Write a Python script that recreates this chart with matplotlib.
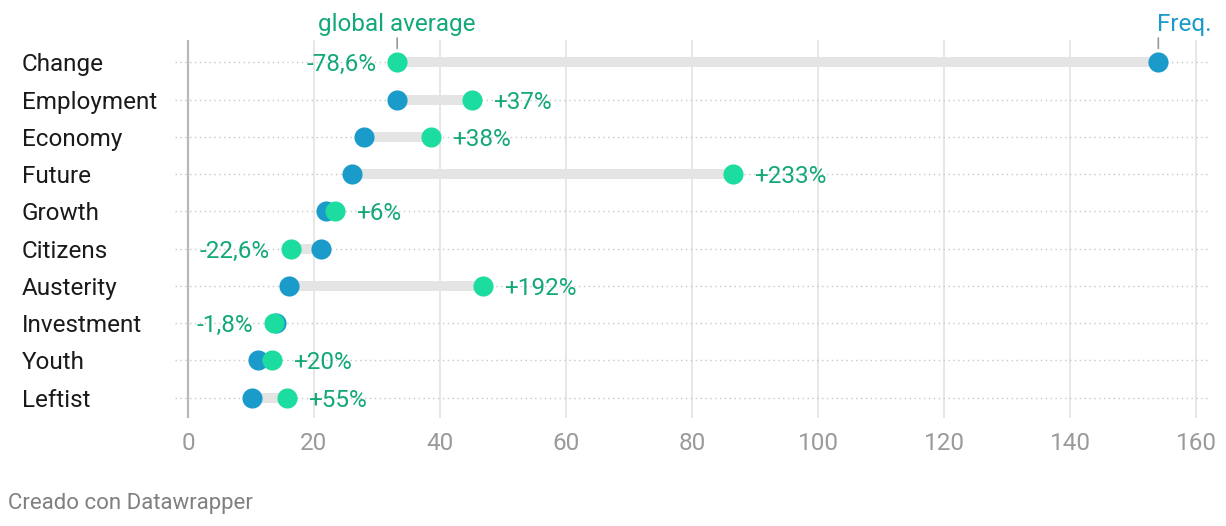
import matplotlib
matplotlib.use("Agg")
import matplotlib.pyplot as plt
from matplotlib.transforms import blended_transform_factory

plt.rcParams["font.family"] = ["Roboto", "DejaVu Sans"]

categories = ["Change", "Employment", "Economy", "Future", "Growth",
              "Citizens", "Austerity", "Investment", "Youth", "Leftist"]
freq = [154.0, 33.2, 27.9, 26.0, 21.9, 21.1, 16.0, 14.0, 11.1, 10.2]
global_avg = [33.2, 45.1, 38.6, 86.5, 23.4, 16.3, 46.8, 13.7, 13.3, 15.7]
pct_labels = ["-78,6%", "+37%", "+38%", "+233%", "+6%",
              "-22,6%", "+192%", "-1,8%", "+20%", "+55%"]
xticks = [0, 20, 40, 60, 80, 100, 120, 140, 160]

BLUE = "#1a9bca"
GREEN = "#1ddc9f"
GREEN_TXT = "#12a87a"
FS = 17.5

fig = plt.figure(figsize=(12.26, 5.26), dpi=100)
ax = fig.add_axes([175 / 1226, 1 - 418 / 526, (1210 - 175) / 1226, (418 - 40) / 526])

n = len(categories)
ys = list(range(n))
ax.set_ylim(n - 0.45, -0.6)
ax.set_xlim(-2.06, 162.2)

for x in xticks:
    ax.axvline(x, color="#b8b8b8" if x == 0 else "#e3e3e3", lw=1.6 if x == 0 else 1.2, zorder=0)
for y in ys:
    ax.axhline(y, color="#c8c8c8", lw=1, ls=(0, (1, 2.5)), zorder=1)

for y, f, g, lab in zip(ys, freq, global_avg, pct_labels):
    ax.plot([f, g], [y, y], color="#e4e4e4", lw=7.2, solid_capstyle="butt", zorder=2)
    ax.scatter([f], [y], s=210, color=BLUE, zorder=3, linewidths=0)
    ax.scatter([g], [y], s=210, color=GREEN, zorder=4, linewidths=0)
    if g >= f:
        ax.annotate(lab, (g, y), xytext=(15, 0), textcoords="offset points",
                    ha="left", va="center_baseline", color=GREEN_TXT, fontsize=FS)
    else:
        ax.annotate(lab, (g, y), xytext=(-15, 0), textcoords="offset points",
                    ha="right", va="center_baseline", color=GREEN_TXT, fontsize=FS)

# series labels above the first row
ax.annotate("global average", (global_avg[0], 0), xytext=(0, 19), textcoords="offset points",
            ha="center", va="bottom", color=GREEN_TXT, fontsize=FS, annotation_clip=False)
ax.annotate("Freq.", (freq[0], 0), xytext=(-1, 19), textcoords="offset points",
            ha="left", va="bottom", color=BLUE, fontsize=FS, annotation_clip=False)
for xv in (global_avg[0], freq[0]):
    ax.annotate("", (xv, 0), xytext=(0, 17.5), textcoords="offset points", annotation_clip=False,
                arrowprops=dict(arrowstyle="-", color="#999999", lw=1.2, shrinkA=0, shrinkB=10))

# category labels, left aligned at the figure edge
trans = blended_transform_factory(fig.transFigure, ax.transData)
for y, c in zip(ys, categories):
    ax.text(22 / 1226, y, c, transform=trans, ha="left", va="center_baseline",
            fontsize=FS, color="#1a1a1a")

ax.set_yticks([])
ax.set_xticks(xticks)
ax.set_xticklabels([str(x) for x in xticks], fontsize=FS, color="#9a9a9a")
ax.tick_params(axis="x", length=0, pad=10)
for s in ax.spines.values():
    s.set_visible(False)

fig.text(8 / 1226, 1 - 503 / 526, "Creado con Datawrapper", fontsize=16, color="#808080",
         ha="left", va="center")

fig.savefig("out.png", dpi=100)
